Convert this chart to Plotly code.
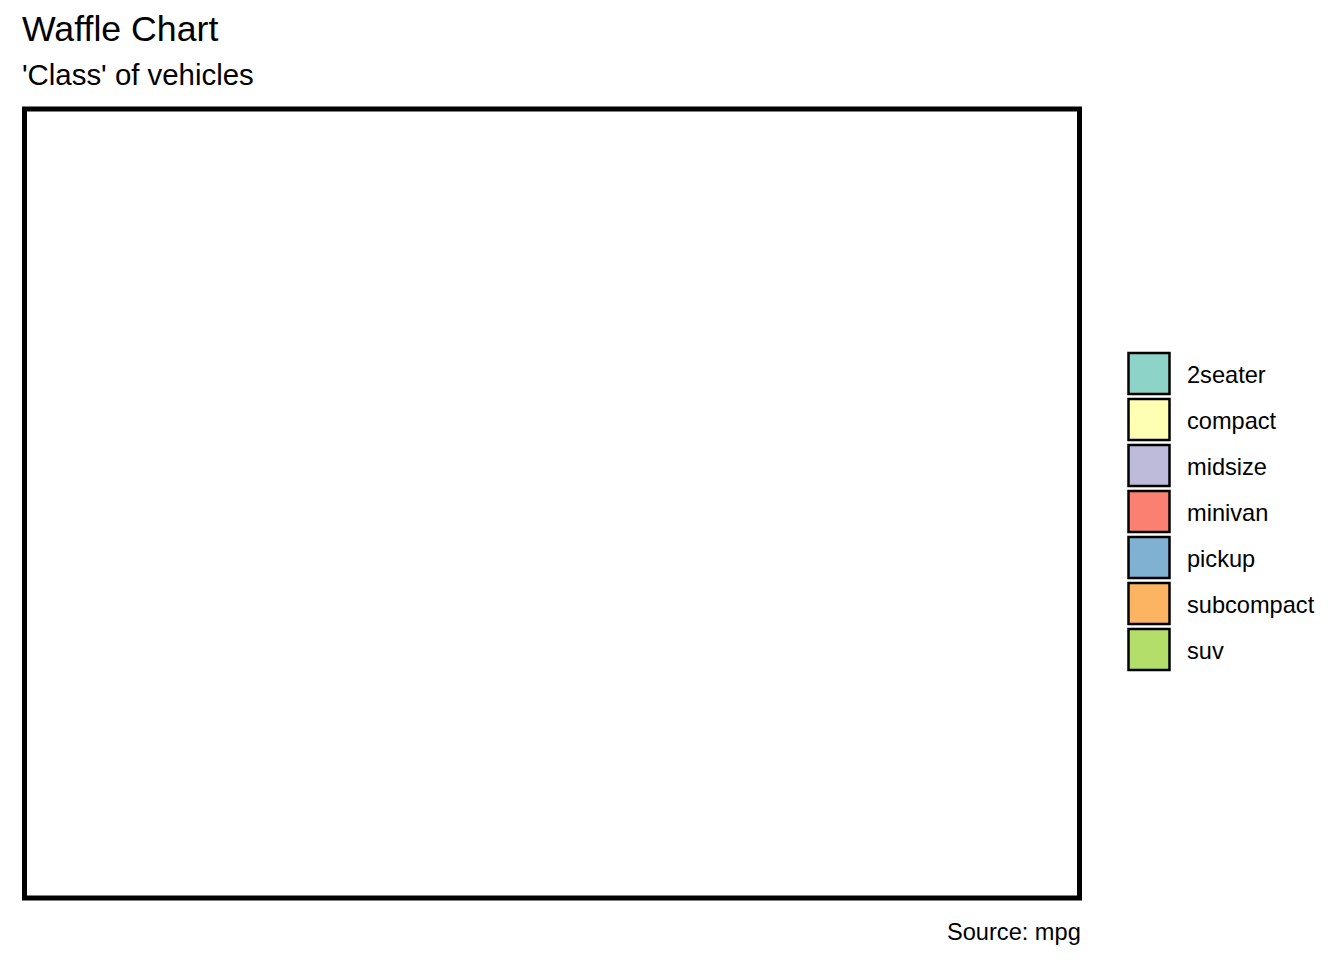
import plotly.graph_objects as go

# ---- data ----
categories = ["2seater", "compact", "midsize", "minivan", "pickup", "subcompact", "suv"]
tile_counts = [2, 20, 18, 5, 14, 15, 26]          # tiles per class in the 10x10 waffle
colors = ["#8DD3C7", "#FFFFB3", "#BEBADA", "#FB8072", "#80B1D3", "#FDB462", "#B3DE69"]
title_text = "Waffle Chart"
subtitle_text = "'Class' of vehicles"
caption_text = "Source: mpg"

W, H = 1344, 960
ML, MR, MT, MB = 24, 10, 109, 62
PW = W - ML - MR
PH = H - MT - MB
FONT = "Liberation Sans, Arial, Helvetica, sans-serif"

def px_x(p):
    return (p - ML) / PW

def px_y(p):
    return (H - MB - p) / PH

fig = go.Figure()

# empty panel (tiles not rendered in the reference)
fig.add_trace(go.Scatter(x=[None], y=[None], mode="markers", showlegend=False,
                         hoverinfo="skip"))

# legend keys drawn on a side axis (index -> vertical slot)
idx = list(range(len(categories)))
fig.add_trace(go.Scatter(
    x=[1149] * len(categories), y=idx, mode="markers",
    marker=dict(symbol="square", size=41, color=colors,
                line=dict(color="black", width=2.5)),
    xaxis="x2", yaxis="y2", showlegend=False,
    hovertext=[f"{c}: {n}" for c, n in zip(categories, tile_counts)],
    hoverinfo="text",
))

pitch = 46.0
first_center = 373.5
y2_range = [(H - MB - first_center) / pitch, -(first_center - MT) / pitch]

annotations = []
for i, c in enumerate(categories):
    annotations.append(dict(x=1185, y=i + 1.0 / pitch, xref="x2", yref="y2", text=c,
                            showarrow=False, xanchor="left", yanchor="middle",
                            font=dict(size=23.6, color="black", family=FONT)))

annotations += [
    dict(x=px_x(20), y=px_y(29.5), xref="paper", yref="paper", text=title_text,
         showarrow=False, xanchor="left", yanchor="middle",
         font=dict(size=35.7, color="black", family=FONT)),
    dict(x=px_x(20), y=px_y(74), xref="paper", yref="paper", text=subtitle_text,
         showarrow=False, xanchor="left", yanchor="middle",
         font=dict(size=29.4, color="black", family=FONT)),
    dict(x=px_x(1083), y=px_y(932), xref="paper", yref="paper", text=caption_text,
         showarrow=False, xanchor="right", yanchor="middle",
         font=dict(size=23.6, color="black", family=FONT)),
]

fig.update_layout(
    width=W, height=H,
    margin=dict(l=ML, r=MR, t=MT, b=MB),
    paper_bgcolor="white", plot_bgcolor="white",
    showlegend=False,
    xaxis=dict(domain=[0, px_x(1079.5)], range=[0.5, 10.5], visible=False, fixedrange=True),
    yaxis=dict(domain=[0, 1], range=[0.5, 10.5], visible=False, fixedrange=True),
    xaxis2=dict(domain=[px_x(1100), 1], range=[1100, W - MR], visible=False, anchor="y2"),
    yaxis2=dict(domain=[0, 1], range=y2_range, visible=False, anchor="x2"),
    annotations=annotations,
    shapes=[dict(type="rect", xref="paper", yref="paper",
                 x0=px_x(24.5), x1=px_x(1079.5), y0=0, y1=1,
                 line=dict(color="black", width=5), fillcolor="rgba(0,0,0,0)")],
)

fig.write_html("out.html")
